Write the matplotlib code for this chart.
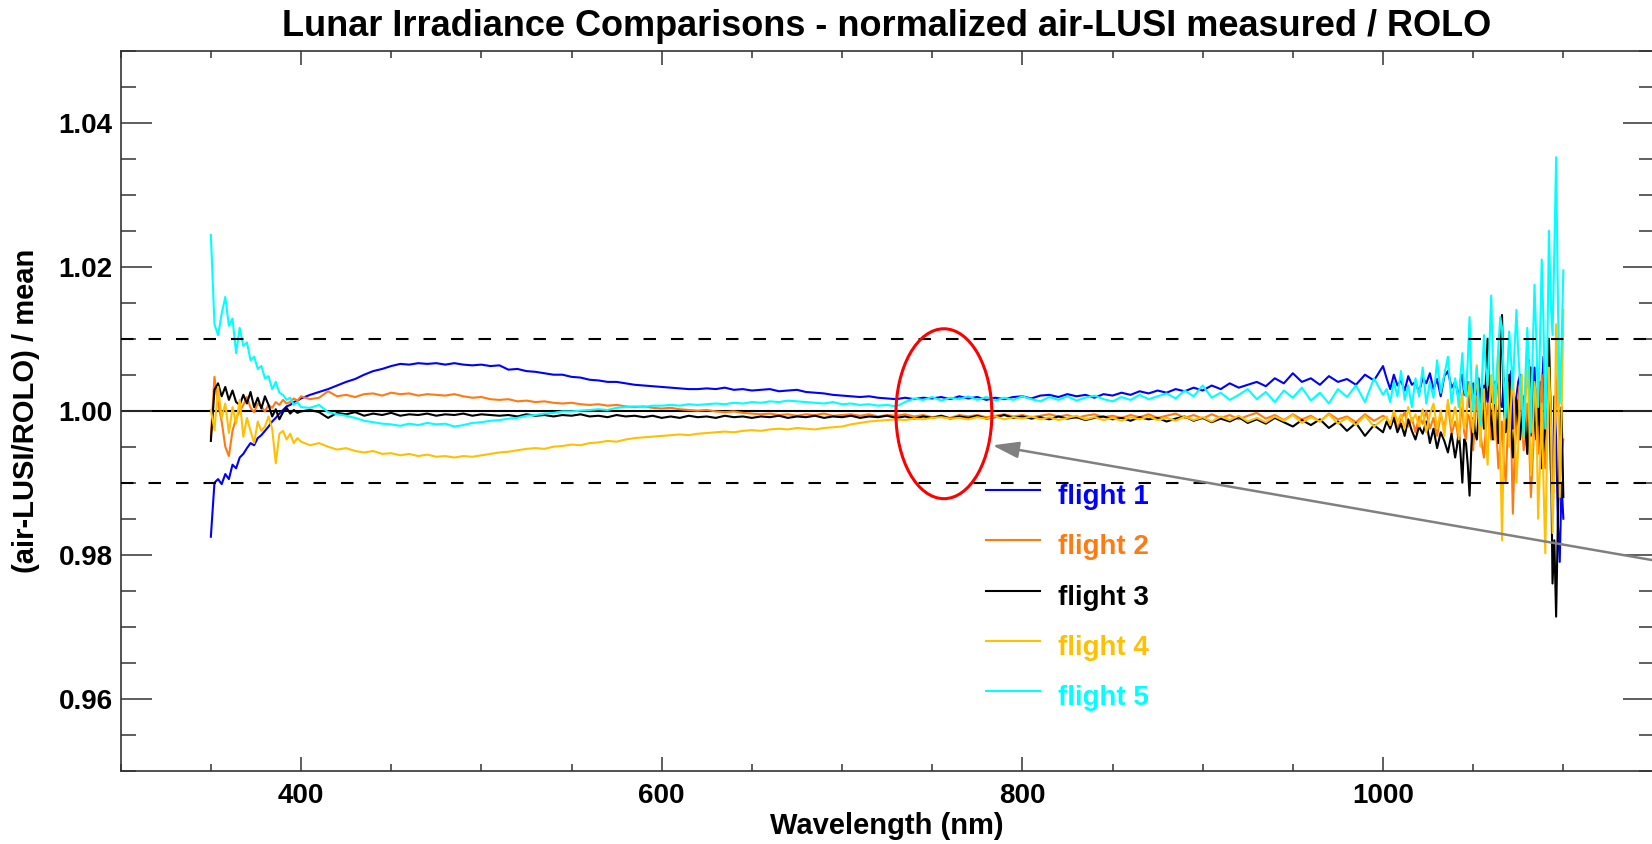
import numpy as np
import matplotlib
matplotlib.use('Agg')
import matplotlib.pyplot as plt
from matplotlib.patches import Ellipse
from matplotlib.ticker import MultipleLocator, FormatStrFormatter

plt.rcParams['font.family'] = ['Liberation Sans', 'DejaVu Sans']
plt.rcParams['font.weight'] = 'bold'

# wavelength grid (nm): finer at the noisy ends, 5 nm in the middle
wl = np.concatenate([np.arange(350, 401, 2), np.arange(405, 1001, 5),
                     np.arange(1002, 1041, 2), np.arange(1041, 1101, 1)])

# normalized air-LUSI / ROLO ratios
flight1 = [
    0.9825, 0.9900, 0.9905, 0.9898, 0.9912, 0.9905, 0.9925, 0.9920, 0.9935, 0.9940,
    0.9948, 0.9955, 0.9952, 0.9962, 0.9966, 0.9972, 0.9978, 0.9985, 0.9990, 0.9996,
    1.0001, 1.0006, 1.0008, 1.0012, 1.0014, 1.0017,
    1.0022, 1.0026, 1.0030, 1.0035, 1.0040, 1.0044, 1.0050, 1.0055, 1.0058, 1.0062,
    1.0065, 1.0064, 1.0066, 1.0065, 1.0066, 1.0064, 1.0066, 1.0064, 1.0063, 1.0064,
    1.0062, 1.0063, 1.0057, 1.0058, 1.0055, 1.0054, 1.0052, 1.0050, 1.0050, 1.0047,
    1.0046, 1.0043, 1.0042, 1.0040, 1.0040, 1.0038, 1.0036, 1.0035, 1.0034, 1.0033,
    1.0032, 1.0031, 1.0030, 1.0030, 1.0031, 1.0030, 1.0032, 1.0029, 1.0030, 1.0028,
    1.0029, 1.0030, 1.0027, 1.0028, 1.0029, 1.0026, 1.0025, 1.0024, 1.0022, 1.0021,
    1.0020, 1.0019, 1.0020, 1.0018, 1.0017, 1.0016, 1.0018, 1.0016, 1.0018, 1.0017,
    1.0019, 1.0016, 1.0020, 1.0017, 1.0019, 1.0015, 1.0018, 1.0016, 1.0019, 1.0020,
    1.0017, 1.0021, 1.0022, 1.0019, 1.0023, 1.0020, 1.0022, 1.0018, 1.0023, 1.0021,
    1.0025, 1.0022, 1.0027, 1.0024, 1.0028, 1.0025, 1.0030, 1.0027, 1.0032, 1.0028,
    1.0035, 1.0030, 1.0038, 1.0032, 1.0036, 1.0040, 1.0034, 1.0045, 1.0038, 1.0052,
    1.0040, 1.0045, 1.0036, 1.0048, 1.0040, 1.0044, 1.0036, 1.0050, 1.0042, 1.0062,
    1.0045, 1.0030, 1.0050, 1.0035, 1.0042, 1.0028, 1.0048, 1.0036, 1.0040, 1.0025,
    1.0046, 1.0038, 1.0052, 1.0030, 1.0044, 1.0020, 1.0048, 1.0055, 1.0032, 1.0040,
    1.0030, 1.0015, 1.0042, 1.0050, 1.0022, 1.0025, 1.0040, 1.0005, 1.0028, 1.0038,
    1.0010, 1.0032, 1.0045, 1.0020, 0.9995, 1.0035, 1.0030, 1.0012, 1.0048, 1.0012,
    1.0025, 0.9990, 1.0030, 1.0040, 1.0008, 1.0005, 1.0045, 0.9985, 1.0020, 1.0030,
    1.0055, 0.9975, 1.0010, 1.0020, 1.0040, 1.0050, 0.9995, 0.9990, 1.0030, 1.0035,
    1.0070, 0.9965, 1.0010, 1.0060, 0.9990, 0.9980, 1.0040, 1.0025, 1.0075, 0.9950,
    1.0010, 1.0030, 0.9920, 0.9870, 1.0020, 0.9960, 0.9840, 0.9790, 0.9900, 0.9850,
]
flight2 = [
    0.9964, 1.0047, 1.0010, 0.9985, 0.9950, 0.9937, 0.9972, 0.9990, 0.9999, 1.0008,
    1.0019, 1.0004, 0.9998, 1.0010, 1.0006, 0.9999, 1.0008, 1.0004, 1.0012, 1.0008,
    1.0015, 1.0010, 1.0012, 1.0017, 1.0014, 1.0020,
    1.0016, 1.0018, 1.0027, 1.0020, 1.0022, 1.0019, 1.0023, 1.0024, 1.0021, 1.0025,
    1.0023, 1.0024, 1.0021, 1.0023, 1.0022, 1.0021, 1.0023, 1.0020, 1.0018, 1.0019,
    1.0016, 1.0015, 1.0016, 1.0013, 1.0014, 1.0012, 1.0013, 1.0011, 1.0010, 1.0011,
    1.0009, 1.0008, 1.0009, 1.0007, 1.0008, 1.0006, 1.0005, 1.0006, 1.0004, 1.0003,
    1.0004, 1.0002, 1.0001, 1.0000, 1.0001, 0.9999, 0.9998, 0.9999, 0.9997, 0.9996,
    0.9995, 0.9996, 0.9994, 0.9995, 0.9993, 0.9995, 0.9994, 0.9996, 0.9993, 0.9994,
    0.9995, 0.9993, 0.9995, 0.9992, 0.9994, 0.9993, 0.9995, 0.9992, 0.9994, 0.9991,
    0.9993, 0.9990, 0.9994, 0.9992, 0.9994, 0.9991, 0.9993, 0.9995, 0.9992, 0.9994,
    0.9991, 0.9993, 0.9995, 0.9992, 0.9994, 0.9990, 0.9993, 0.9995, 0.9991, 0.9993,
    0.9990, 0.9994, 0.9991, 0.9995, 0.9990, 0.9993, 0.9996, 0.9990, 0.9994, 0.9989,
    0.9995, 0.9990, 0.9994, 0.9988, 0.9993, 0.9997, 0.9989, 0.9994, 0.9987, 0.9995,
    0.9988, 0.9993, 0.9985, 0.9996, 0.9988, 0.9992, 0.9984, 0.9995, 0.9986, 0.9993,
    0.9990, 0.9980, 0.9995, 0.9975, 0.9988, 0.9998, 0.9978, 0.9990, 0.9970, 0.9992,
    0.9982, 1.0000, 0.9975, 0.9990, 0.9965, 0.9995, 0.9975, 1.0010, 0.9968, 0.9985,
    0.9975, 0.9955, 0.9990, 1.0005, 0.9970, 0.9960, 0.9995, 0.9990, 0.9965, 0.9945,
    0.9985, 1.0020, 0.9995, 0.9970, 0.9950, 0.9935, 0.9975, 1.0010, 0.9990, 0.9960,
    0.9995, 1.0030, 0.9965, 0.9920, 0.9950, 0.9985, 0.9930, 0.9900, 0.9960, 1.0015,
    0.9975, 0.9857, 0.9940, 0.9980, 1.0020, 1.0040, 0.9990, 0.9945, 0.9970, 1.0010,
    0.9960, 0.9880, 0.9930, 0.9990, 1.0030, 0.9940, 0.9985, 1.0050, 0.9960, 0.9920,
    1.0020, 1.0100, 0.9990, 0.9850, 0.9950, 1.0020, 1.0060, 0.9900, 0.9940, 0.9960,
]
flight3 = [
    0.9958, 1.0029, 1.0038, 1.0020, 1.0033, 1.0015, 1.0028, 1.0012, 1.0008, 1.0022,
    1.0010, 1.0026, 1.0005, 1.0018, 1.0003, 1.0020, 1.0008, 0.9992, 1.0002, 0.9988,
    0.9998, 1.0004, 0.9996, 1.0001, 0.9997, 0.9999,
    1.0001, 0.9998, 0.9990, 0.9997, 0.9995, 0.9998, 0.9993, 0.9996, 0.9994, 0.9997,
    0.9993, 0.9995, 0.9994, 0.9996, 0.9993, 0.9995, 0.9994, 0.9996, 0.9993, 0.9995,
    0.9994, 0.9993, 0.9994, 0.9992, 0.9995, 0.9993, 0.9994, 0.9992, 0.9994, 0.9993,
    0.9995, 0.9992, 0.9993, 0.9991, 0.9994, 0.9992, 0.9993, 0.9991, 0.9993, 0.9990,
    0.9992, 0.9990, 0.9993, 0.9991, 0.9992, 0.9990, 0.9993, 0.9991, 0.9992, 0.9990,
    0.9992, 0.9991, 0.9993, 0.9990, 0.9992, 0.9991, 0.9993, 0.9990, 0.9992, 0.9991,
    0.9993, 0.9990, 0.9992, 0.9991, 0.9993, 0.9990, 0.9992, 0.9989, 0.9992, 0.9990,
    0.9993, 0.9989, 0.9992, 0.9990, 0.9993, 0.9989, 0.9991, 0.9994, 0.9990, 0.9992,
    0.9989, 0.9991, 0.9988, 0.9992, 0.9989, 0.9991, 0.9987, 0.9990, 0.9992, 0.9988,
    0.9990, 0.9986, 0.9991, 0.9988, 0.9990, 0.9985, 0.9989, 0.9992, 0.9986, 0.9990,
    0.9984, 0.9989, 0.9985, 0.9991, 0.9983, 0.9988, 0.9982, 0.9990, 0.9984, 0.9978,
    0.9987, 0.9980, 0.9988, 0.9976, 0.9985, 0.9972, 0.9983, 0.9965, 0.9980, 0.9970,
    0.9985, 0.9975, 0.9990, 0.9970, 0.9982, 0.9965, 0.9988, 0.9972, 0.9960, 0.9978,
    0.9968, 0.9985, 0.9955, 0.9975, 0.9948, 0.9970, 0.9958, 0.9942, 0.9968, 0.9935,
    0.9950, 0.9972, 0.9940, 0.9900, 0.9960, 0.9955, 0.9925, 0.9882, 0.9950, 0.9990,
    0.9970, 0.9960, 0.9995, 1.0030, 1.0000, 0.9975, 1.0040, 1.0100, 1.0020, 0.9985,
    0.9960, 1.0040, 0.9990, 0.9955, 1.0060, 1.0133, 1.0010, 0.9970, 0.9990, 1.0050,
    0.9980, 0.9935, 0.9970, 1.0015, 0.9990, 0.9960, 0.9995, 1.0020, 0.9975, 0.9940,
    1.0000, 1.0060, 1.0020, 0.9990, 0.9960, 1.0025, 0.9970, 0.9920, 0.9950, 0.9980,
    1.0040, 1.0100, 0.9990, 0.9760, 0.9820, 0.9714, 0.9850, 0.9960, 1.0005, 0.9880,
]
flight4 = [
    1.0001, 0.9973, 1.0033, 0.9990, 1.0010, 0.9969, 1.0005, 0.9982, 1.0015, 0.9964,
    0.9990, 0.9972, 0.9955, 0.9985, 0.9972, 0.9978, 0.9992, 0.9975, 0.9927, 0.9968,
    0.9972, 0.9960, 0.9968, 0.9955, 0.9962, 0.9957,
    0.9952, 0.9955, 0.9950, 0.9946, 0.9948, 0.9944, 0.9942, 0.9944, 0.9940, 0.9941,
    0.9938, 0.9940, 0.9937, 0.9939, 0.9936, 0.9937, 0.9935, 0.9937, 0.9936, 0.9938,
    0.9940, 0.9942, 0.9943, 0.9945, 0.9947, 0.9948, 0.9947, 0.9950, 0.9951, 0.9953,
    0.9952, 0.9955, 0.9956, 0.9958, 0.9957, 0.9960, 0.9962, 0.9963, 0.9964, 0.9965,
    0.9966, 0.9967, 0.9966, 0.9968, 0.9969, 0.9970, 0.9971, 0.9970, 0.9972, 0.9973,
    0.9972, 0.9974, 0.9975, 0.9974, 0.9976, 0.9975, 0.9974, 0.9976, 0.9977, 0.9978,
    0.9981, 0.9983, 0.9985, 0.9986, 0.9987, 0.9988, 0.9987, 0.9989, 0.9988, 0.9990,
    0.9991, 0.9989, 0.9990, 0.9988, 0.9991, 0.9989, 0.9992, 0.9988, 0.9991, 0.9989,
    0.9992, 0.9988, 0.9991, 0.9987, 0.9990, 0.9993, 0.9988, 0.9991, 0.9987, 0.9990,
    0.9986, 0.9991, 0.9988, 0.9992, 0.9987, 0.9990, 0.9986, 0.9992, 0.9987, 0.9991,
    0.9985, 0.9992, 0.9987, 0.9993, 0.9985, 0.9990, 0.9984, 0.9992, 0.9986, 0.9994,
    0.9983, 0.9991, 0.9985, 0.9995, 0.9982, 0.9990, 0.9980, 0.9993, 0.9978, 0.9988,
    0.9992, 0.9980, 1.0000, 0.9985, 0.9995, 0.9975, 1.0005, 0.9985, 0.9995, 0.9978,
    1.0002, 0.9970, 0.9995, 1.0010, 0.9975, 1.0000, 0.9965, 1.0015, 0.9980, 1.0005,
    0.9990, 0.9960, 1.0010, 1.0025, 0.9975, 0.9985, 1.0020, 1.0040, 0.9990, 0.9970,
    1.0020, 1.0063, 0.9995, 0.9950, 1.0010, 1.0030, 0.9970, 0.9925, 1.0000, 1.0050,
    1.0010, 0.9960, 1.0035, 1.0080, 0.9950, 0.9820, 0.9960, 1.0020, 1.0040, 0.9950,
    1.0010, 1.0060, 0.9980, 0.9900, 0.9950, 1.0030, 1.0050, 0.9960, 1.0010, 1.0080,
    0.9990, 0.9910, 0.9960, 1.0040, 1.0010, 0.9850, 0.9920, 1.0010, 0.9900, 0.9802,
    0.9950, 1.0060, 1.0000, 0.9830, 0.9920, 1.0120, 1.0050, 0.9880, 0.9990, 1.0140,
]
flight5 = [
    1.0244, 1.0120, 1.0105, 1.0135, 1.0158, 1.0118, 1.0128, 1.0080, 1.0115, 1.0090,
    1.0095, 1.0070, 1.0075, 1.0058, 1.0062, 1.0045, 1.0048, 1.0030, 1.0040, 1.0025,
    1.0022, 1.0015, 1.0018, 1.0008, 1.0012, 1.0005,
    1.0004, 1.0008, 0.9998, 0.9995, 0.9993, 0.9990, 0.9986, 0.9984, 0.9982, 0.9981,
    0.9979, 0.9982, 0.9980, 0.9983, 0.9981, 0.9982, 0.9978, 0.9980, 0.9983, 0.9984,
    0.9986, 0.9987, 0.9989, 0.9990, 0.9993, 0.9994, 0.9996, 0.9997, 0.9999, 0.9999,
    1.0000, 1.0001, 1.0002, 1.0001, 1.0004, 1.0005, 1.0006, 1.0005, 1.0007, 1.0007,
    1.0008, 1.0007, 1.0009, 1.0008, 1.0009, 1.0010, 1.0009, 1.0011, 1.0010, 1.0012,
    1.0011, 1.0013, 1.0012, 1.0014, 1.0013, 1.0012, 1.0011, 1.0010, 1.0012, 1.0009,
    1.0010, 1.0008, 1.0009, 1.0007, 1.0008, 1.0006, 1.0012, 1.0017, 1.0015, 1.0019,
    1.0014, 1.0018, 1.0016, 1.0020, 1.0015, 1.0019, 1.0014, 1.0018, 1.0015, 1.0020,
    1.0016, 1.0013, 1.0019, 1.0015, 1.0020, 1.0014, 1.0018, 1.0021, 1.0016, 1.0013,
    1.0019, 1.0015, 1.0022, 1.0016, 1.0020, 1.0024, 1.0017, 1.0028, 1.0020, 1.0035,
    1.0018, 1.0025, 1.0015, 1.0022, 1.0030, 1.0016, 1.0026, 1.0012, 1.0028, 1.0018,
    1.0032, 1.0014, 1.0025, 1.0010, 1.0030, 1.0019, 1.0035, 1.0012, 1.0045, 1.0022,
    1.0030, 1.0012, 1.0040, 1.0020, 1.0055, 1.0015, 1.0035, 1.0005, 1.0045, 1.0020,
    1.0060, 1.0010, 1.0040, 1.0018, 1.0070, 1.0025, 1.0050, 1.0075, 1.0010, 1.0045,
    1.0030, 1.0005, 1.0050, 1.0080, 1.0030, 1.0020, 1.0070, 1.0130, 1.0040, 1.0000,
    1.0030, 1.0060, 1.0020, 0.9980, 1.0050, 1.0105, 1.0060, 1.0035, 1.0090, 1.0160,
    1.0060, 1.0010, 1.0050, 1.0090, 1.0130, 1.0115, 1.0040, 0.9990, 1.0060, 1.0110,
    1.0070, 1.0030, 1.0090, 1.0140, 1.0080, 1.0040, 1.0010, 0.9965, 1.0050, 1.0115,
    1.0060, 0.9970, 1.0080, 1.0175, 1.0100, 1.0005, 1.0090, 1.0210, 1.0120, 0.9975,
    1.0060, 1.0250, 1.0150, 1.0105, 1.0220, 1.0352, 1.0150, 1.0010, 1.0090, 1.0195,
]

labels = ['flight 1', 'flight 2', 'flight 3', 'flight 4', 'flight 5']
colors = ['#0000FF', '#FF7A10', '#000000', '#FFC000', '#00FFFF']
series = [flight1, flight2, flight3, flight4, flight5]
for s in series:
    assert len(s) == len(wl), len(s)

# O2 A-band highlight and pointer
band_center = (756.5, 0.99958)
band_size = (53.2, 0.0236)
arrow_tip = (783.4, 0.99519)
arrow_tail = (1150.0, 0.97922)

fig = plt.figure(figsize=(16.52, 8.44), dpi=100)
ax = fig.add_axes([0.07306, 0.08685, 0.92785, 0.85308])

ax.axhline(1.0, color='black', lw=1.5, zorder=1)
for s, c in zip(series, colors):
    ax.plot(wl, s, color=c, lw=1.5, zorder=2)
for yv in (1.01, 0.99):
    ax.axhline(yv, color='black', lw=1.5, ls=(0, (6, 7.2)), zorder=3)

ax.add_patch(Ellipse(band_center, band_size[0], band_size[1], fill=False,
                     ec='red', lw=2.2, zorder=4))
ax.annotate('', xy=arrow_tip, xytext=arrow_tail, annotation_clip=False,
            arrowprops=dict(arrowstyle='-|>,head_length=0.8,head_width=0.25',
                            color='#808080', lw=1.8, mutation_scale=20,
                            shrinkA=0, shrinkB=0), zorder=5)

# legend drawn by hand: short line + coloured label
leg_y = [0.3899, 0.3200, 0.2501, 0.1801, 0.1102]
for yy, c, lab in zip(leg_y, colors, labels):
    ax.plot([0.5645, 0.5998], [yy, yy], color=c, lw=1.5, transform=ax.transAxes, zorder=6)
    ax.text(0.6117, yy - 0.0194, lab, color=c, fontsize=20, fontweight='bold',
            va='baseline', ha='left', transform=ax.transAxes, zorder=6)

ax.set_xlim(300, 1150)
ax.set_ylim(0.95, 1.05)
ax.xaxis.set_major_locator(MultipleLocator(200))
ax.xaxis.set_minor_locator(MultipleLocator(50))
ax.yaxis.set_major_locator(MultipleLocator(0.02))
ax.yaxis.set_minor_locator(MultipleLocator(0.005))
ax.yaxis.set_major_formatter(FormatStrFormatter('%.2f'))

ax.tick_params(which='both', direction='in', top=True, right=True, color='#333333', width=1.1)
ax.tick_params(axis='x', which='major', length=10.4, pad=9, labelsize=20)
ax.tick_params(axis='x', which='minor', length=5)
ax.tick_params(axis='y', which='major', length=22, pad=5.8, labelsize=20)
ax.tick_params(axis='y', which='minor', length=11)
for sp in ax.spines.values():
    sp.set_linewidth(1.2)
    sp.set_color('#333333')

ax.set_title('Lunar Irradiance Comparisons - normalized air-LUSI measured / ROLO',
             fontsize=26, fontweight='bold', pad=10.6)
ax.set_xlabel('Wavelength (nm)', fontsize=21, fontweight='bold', va='center')
ax.xaxis.set_label_coords(0.5, -0.0768)
ax.set_ylabel('(air-LUSI/ROLO) / mean', fontsize=21, fontweight='bold', va='center')
ax.yaxis.set_label_coords(-0.0618, 0.5)

fig.savefig('out.png', dpi=100)
